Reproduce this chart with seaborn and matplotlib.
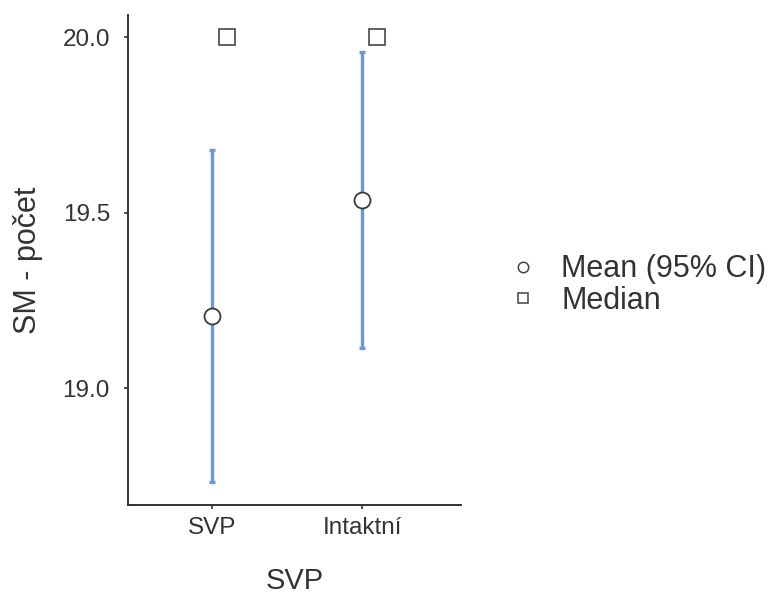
import matplotlib
matplotlib.use("Agg")
import matplotlib.pyplot as plt
import matplotlib.transforms as mtransforms
from matplotlib.lines import Line2D
import seaborn as sns
import pandas as pd

groups = ["SVP", "Intaktní"]
means = [19.205, 19.537]
ci_low = [18.732, 19.114]
ci_high = [19.678, 19.957]
medians = [20.0, 20.0]
y_ticks = [19.0, 19.5, 20.0]

sns.set_theme(style="white")
plt.rcParams["font.family"] = ["Liberation Sans", "DejaVu Sans"]

df = pd.DataFrame({"group": groups, "mean": means, "lo": ci_low,
                   "hi": ci_high, "median": medians})

fig = plt.figure(figsize=(7.79, 5.97), dpi=100)
ax = fig.add_axes([128 / 779, 92 / 597, 333 / 779, 490 / 597])

blue = "#6F97D8"
edge = "#3a3a3a"

# Means (seaborn categorical scale)
sns.pointplot(data=df, x="group", y="mean", order=groups, linestyle="none",
              markers="o", color="white", ax=ax, errorbar=None,
              markersize=11.5, markeredgewidth=1.3)
for ln in ax.lines:
    if ln.get_marker() == "o":
        ln.set_markeredgecolor(edge)
        ln.set_markerfacecolor("white")
        ln.set_zorder(4)

# CI lines
ax.errorbar(x=[0, 1], y=df["mean"],
            yerr=[df["mean"] - df["lo"], df["hi"] - df["mean"]],
            fmt="none", ecolor=blue, elinewidth=2.4, capsize=2.5, capthick=2.4, zorder=2)

# Medians (offset to the right)
offset = mtransforms.ScaledTranslation(15 / 100, 0, fig.dpi_scale_trans)
ax.plot([0, 1], df["median"], linestyle="none", marker="s", markersize=11,
        markerfacecolor="white", markeredgecolor="#555555", markeredgewidth=1.3,
        transform=ax.transData + offset, zorder=3, clip_on=False)

ax.set_xlim(-0.56, 1.66)
ax.set_ylim(18.667, 20.063)
ax.set_yticks(y_ticks)
ax.set_yticklabels([f"{v:.1f}" for v in y_ticks])
ax.set_xticks([0, 1])
ax.set_xticklabels(groups)

sns.despine(ax=ax)
for sp in ["left", "bottom"]:
    ax.spines[sp].set_color("#333333")
    ax.spines[sp].set_linewidth(1.4)
ax.tick_params(axis="both", which="both", direction="out", length=3, width=1.2,
               color="#333333", labelcolor="#333333", labelsize=17.5,
               left=True, bottom=True)
ax.tick_params(axis="y", pad=10)
ax.tick_params(axis="x", pad=6)
ax.set_xlabel("SVP", fontsize=21, color="#333333", labelpad=20)
ax.set_ylabel("SM - počet", fontsize=22, color="#333333", labelpad=14)

handles = [
    Line2D([], [], linestyle="none", marker="o", markersize=7.5,
           markerfacecolor="white", markeredgecolor="#444444", markeredgewidth=1.1),
    Line2D([], [], linestyle="none", marker="s", markersize=6.5,
           markerfacecolor="white", markeredgecolor="#444444", markeredgewidth=1.1),
]
fig.legend(handles, ["Mean (95% CI)", "Median"], loc="center left",
           bbox_to_anchor=(508 / 779, 1 - 285 / 597), frameon=False,
           fontsize=22, handlelength=1.0, handletextpad=0.75, labelspacing=0.05,
           borderpad=0, borderaxespad=0, labelcolor="#333333")

fig.savefig("out.png", dpi=100)
